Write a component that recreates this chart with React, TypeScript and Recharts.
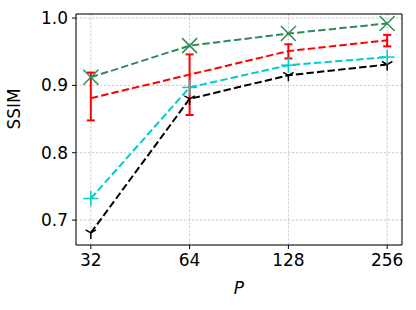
import {
    LineChart,
    Line,
    XAxis,
    YAxis,
    CartesianGrid,
    ErrorBar,
    ReferenceArea,
} from 'recharts';

const pLabels = ['32', '64', '128', '256'];
const greenVals = [0.912, 0.959, 0.977, 0.992];
const redVals = [0.881, 0.916, 0.951, 0.967];
const redErrLow = [0.033, 0.060, 0.011, 0.009];
const redErrHigh = [0.038, 0.030, 0.010, 0.008];
const cyanVals = [0.732, 0.897, 0.930, 0.942];
const blackVals = [0.681, 0.880, 0.915, 0.931];
const yTicks = [0.7, 0.8, 0.9, 1.0];

const data = pLabels.map((p, i) => ({
    idx: i,
    green: greenVals[i],
    red: redVals[i],
    redErr: [redErrLow[i], redErrHigh[i]],
    cyan: cyanVals[i],
    black: blackVals[i],
}));

const GREEN = '#2e8b57';
const RED = '#ff0000';
const CYAN = '#00cccc';
const BLACK = '#000000';
const DASH = '7.4 3.2';

const XMark = (props: any) => {
    const { cx, cy } = props;
    if (cx == null || cy == null) return null;
    const s = 7.5;
    return (
        <g stroke={GREEN} strokeWidth={1.5}>
            <line x1={cx - s} y1={cy - s} x2={cx + s} y2={cy + s} />
            <line x1={cx - s} y1={cy + s} x2={cx + s} y2={cy - s} />
        </g>
    );
};

const PlusMark = (props: any) => {
    const { cx, cy } = props;
    if (cx == null || cy == null) return null;
    const s = 7.5;
    return (
        <g stroke={CYAN} strokeWidth={1.5}>
            <line x1={cx - s} y1={cy} x2={cx + s} y2={cy} />
            <line x1={cx} y1={cy - s} x2={cx} y2={cy + s} />
        </g>
    );
};

const TriDown = (props: any) => {
    const { cx, cy } = props;
    if (cx == null || cy == null) return null;
    const s = 6;
    return (
        <g stroke={BLACK} strokeWidth={1.5}>
            <line x1={cx} y1={cy} x2={cx} y2={cy + s} />
            <line x1={cx} y1={cy} x2={cx - s * 0.866} y2={cy - s * 0.5} />
            <line x1={cx} y1={cy} x2={cx + s * 0.866} y2={cy - s * 0.5} />
        </g>
    );
};

const font = 'DejaVu Sans';

const App = () => {
    return (
        <div style={{ position: 'absolute', left: 0, top: 0, width: 416, height: 310, background: '#fff' }}>
            <LineChart
                width={416}
                height={310}
                data={data}
                margin={{ top: 14, right: 14, left: 0, bottom: 0 }}
            >
                <CartesianGrid stroke="#c0c0c0" strokeDasharray="2.5 1.5" strokeWidth={0.8} />
                <XAxis
                    dataKey="idx"
                    type="number"
                    domain={[-0.15, 3.15]}
                    ticks={[0, 1, 2, 3]}
                    tickFormatter={(v: number) => pLabels[v]}
                    height={65}
                    tickSize={4}
                    tickMargin={5}
                    axisLine={false}
                    tickLine={{ stroke: '#000' }}
                    tick={{ fill: '#000', fontSize: 17, fontFamily: font }}
                    label={{ value: 'P', position: 'insideBottom', offset: 16, fill: '#000', fontSize: 17, fontFamily: font, fontStyle: 'italic' }}
                    allowDataOverflow
                />
                <YAxis
                    type="number"
                    domain={[0.663, 1.006]}
                    ticks={yTicks}
                    tickFormatter={(v: number) => v.toFixed(1)}
                    width={76}
                    tickSize={4}
                    tickMargin={4}
                    axisLine={false}
                    tickLine={{ stroke: '#000' }}
                    tick={{ fill: '#000', fontSize: 17, fontFamily: font }}
                    label={{ value: 'SSIM', angle: -90, position: 'insideLeft', offset: 14, fill: '#000', fontSize: 17, fontFamily: font }}
                    allowDataOverflow
                />
                <ReferenceArea
                    x1={-0.15}
                    x2={3.15}
                    y1={0.663}
                    y2={1.006}
                    fill="none"
                    stroke="#000"
                    strokeWidth={1}
                    ifOverflow="visible"
                />
                <Line
                    dataKey="black"
                    stroke={BLACK}
                    strokeWidth={2}
                    strokeDasharray={DASH}
                    dot={<TriDown />}
                    activeDot={false}
                    isAnimationActive={false}
                />
                <Line
                    dataKey="cyan"
                    stroke={CYAN}
                    strokeWidth={2}
                    strokeDasharray={DASH}
                    dot={<PlusMark />}
                    activeDot={false}
                    isAnimationActive={false}
                />
                <Line
                    dataKey="red"
                    stroke={RED}
                    strokeWidth={2}
                    strokeDasharray={DASH}
                    dot={false}
                    activeDot={false}
                    isAnimationActive={false}
                >
                    <ErrorBar dataKey="redErr" direction="y" width={4} stroke={RED} strokeWidth={2} />
                </Line>
                <Line
                    dataKey="green"
                    stroke={GREEN}
                    strokeWidth={2}
                    strokeDasharray={DASH}
                    dot={<XMark />}
                    activeDot={false}
                    isAnimationActive={false}
                />
            </LineChart>
        </div>
    );
};

export default App;
